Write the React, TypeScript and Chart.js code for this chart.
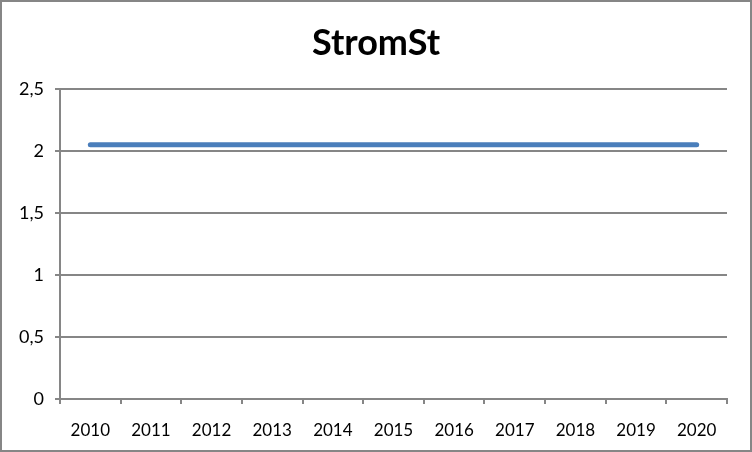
import React, { useEffect, useRef } from "react";
import { Chart, registerables } from "chart.js";

Chart.register(...registerables);

const categories = ["2010", "2011", "2012", "2013", "2014", "2015", "2016", "2017", "2018", "2019", "2020"];
const values = [2.05, 2.05, 2.05, 2.05, 2.05, 2.05, 2.05, 2.05, 2.05, 2.05, 2.05];
const titleText = "StromSt";

const borderPlugin = {
  id: "outerBorder",
  beforeDraw(chart: any) {
    const ctx = chart.ctx;
    ctx.save();
    ctx.fillStyle = "#ffffff";
    ctx.fillRect(0, 0, chart.width, chart.height);
    ctx.strokeStyle = "#868686";
    ctx.lineWidth = 2;
    ctx.strokeRect(1, 1, chart.width - 2, chart.height - 2);
    ctx.restore();
  },
  afterDraw(chart: any) {
    const ctx = chart.ctx;
    ctx.save();
    ctx.fillStyle = "#000000";
    ctx.font = "bold 36px Lato";
    ctx.textAlign = "center";
    ctx.textBaseline = "middle";
    ctx.fillText(titleText, chart.width / 2, 43);
    ctx.restore();
  },
};

export default function App() {
  const ref = useRef<HTMLCanvasElement | null>(null);
  useEffect(() => {
    document.body.style.margin = "0";
    const canvas = ref.current;
    if (!canvas) return;
    const chart = new Chart(canvas, {
      type: "line",
      data: {
        labels: categories,
        datasets: [
          {
            data: values,
            borderColor: "#4a7ebb",
            borderWidth: 5,
            pointRadius: 0,
            borderCapStyle: "round",
            tension: 0,
          },
        ],
      },
      options: {
        responsive: false,
        animation: false,
        layout: { padding: { left: 0, right: 25, top: 89, bottom: 0 } },
        plugins: {
          legend: { display: false },
          tooltip: { enabled: false },
          title: { display: false },
        },
        scales: {
          x: {
            type: "category",
            offset: true,
            grid: {
              offset: true,
              drawOnChartArea: false,
              drawTicks: true,
              tickLength: 5,
              color: "#868686",
              lineWidth: 2,
            },
            border: { display: true, color: "#868686", width: 2 },
            ticks: {
              color: "#000000",
              font: { family: "Lato", size: 17 },
              padding: 16,
              maxRotation: 0,
            },
            afterFit(scale: any) {
              scale.height = 53;
            },
          },
          y: {
            min: 0,
            max: 2.5,
            ticks: {
              stepSize: 0.5,
              color: "#000000",
              font: { family: "Lato", size: 18 },
              padding: 11,
              callback: (v: any) => String(v).replace(".", ","),
            },
            grid: {
              color: "#868686",
              lineWidth: 2,
              tickLength: 5,
              drawTicks: true,
            },
            border: { display: true, color: "#868686", width: 2 },
            afterFit(scale: any) {
              scale.width = 60;
            },
          },
        },
      },
      plugins: [borderPlugin],
    });
    return () => chart.destroy();
  }, []);
  return <canvas ref={ref} width={752} height={452} style={{ display: "block" }} />;
}
